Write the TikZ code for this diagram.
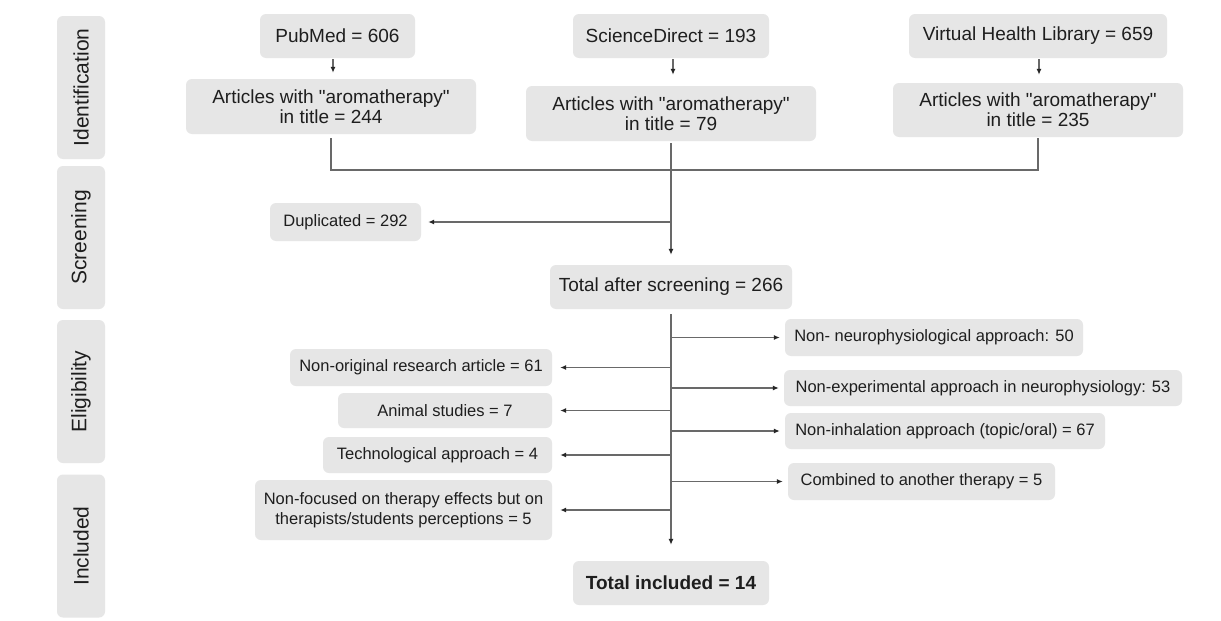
\documentclass[tikz,border=0pt]{standalone}
\usepackage{fontspec}
\setmainfont{Liberation Sans}[Ligatures=TeXOff]
\usetikzlibrary{arrows.meta}
\definecolor{boxgray}{RGB}{230,230,230}
\definecolor{linegray}{RGB}{105,105,105}
\definecolor{txt}{RGB}{30,30,30}
\begin{document}
\begin{tikzpicture}[x=1pt,y=-1pt,
  box/.style={fill=boxgray, rounded corners=6pt, inner sep=0pt, align=center, text=txt},
  big/.style={font=\fontsize{19}{20}\selectfont},
  small/.style={font=\fontsize{16.5}{20}\selectfont},
  side/.style={box, rotate=90, minimum width=143, minimum height=48, font=\fontsize{21}{24}\selectfont},
  conn/.style={draw=linegray, line width=1.2pt},
  arr/.style={conn, -{Latex[length=6pt,width=5pt,color=black!85]}}
]
\fill[white] (0,0) rectangle (1221,621);
\useasboundingbox (0,0) rectangle (1221,621);

% side labels
\node[side] (sid) at (81,87.5) {Identification};
\node[side] (sscr) at (81,237.5) {Screening};
\node[side] (selg) at (81,391.5) {Eligibility};
\node[side] (sinc) at (81,546) {Included};

% identification
\node[box,big,minimum width=155,minimum height=44] (pub) at (337.5,36) {PubMed = 606};
\node[box,big,minimum width=196,minimum height=44] (sd) at (671,36) {ScienceDirect = 193};
\node[box,big,minimum width=258,minimum height=44] (vhl) at (1038,36) {Virtual Health Library = 659};
\node[box,big,minimum width=290,minimum height=55] (a1) at (331,106.5) {Articles with "aromatherapy"\\in title = 244};
\node[box,big,minimum width=290,minimum height=55] (a2) at (671,113.5) {Articles with "aromatherapy"\\in title = 79};
\node[box,big,minimum width=290,minimum height=54] (a3) at (1038,110) {Articles with "aromatherapy"\\in title = 235};

% screening
\node[box,small,minimum width=151,minimum height=38] (dup) at (345.5,222) {Duplicated = 292};
\node[box,big,minimum width=242,minimum height=44] (tas) at (671,287) {Total after screening = 266};

% eligibility right
\node[box,small,minimum width=298,minimum height=37] (nn) at (934,337.5) {Non- neurophysiological approach: 50};
\node[box,small,minimum width=398,minimum height=36] (ne) at (983,388) {Non-experimental approach in neurophysiology: 53};
\node[box,small,minimum width=320,minimum height=36] (ni) at (945,431) {Non-inhalation approach (topic/oral) = 67};
\node[box,small,minimum width=267,minimum height=37] (cb) at (921.5,481.5) {Combined to another therapy = 5};

% eligibility left
\node[box,small,minimum width=262,minimum height=37] (no) at (421,367.5) {Non-original research article = 61};
\node[box,small,minimum width=214,minimum height=35] (an) at (445,410.5) {Animal studies = 7};
\node[box,small,minimum width=229,minimum height=36] (te) at (437.5,455) {Technological approach = 4};
\node[box,small,minimum width=297,minimum height=60] (nf) at (403.5,510) {Non-focused on therapy effects but on\\therapists/students perceptions = 5};

% included
\node[box,big,minimum width=196,minimum height=44,font=\fontsize{19}{20}\selectfont\bfseries] (ti) at (671,583) {Total included = 14};

% connectors
\draw[arr, shorten <=1pt, shorten >=6pt] ([xshift=-4.5pt]pub.south) -- ([xshift=-4.5pt]pub.south |- a1.north);
\draw[arr, shorten <=1pt, shorten >=11pt] ([xshift=2pt]sd.south) -- ([xshift=2pt]sd.south |- a2.north);
\draw[arr, shorten <=1pt, shorten >=8pt] ([xshift=1pt]vhl.south) -- ([xshift=1pt]vhl.south |- a3.north);

\coordinate (j) at (671,170);
\draw[conn] ([yshift=-4pt]a1.south) |- (j) -| ([yshift=-1pt]a3.south);
\draw[arr, shorten >=10pt] ([yshift=-2pt]a2.south) -- (tas.north);
\draw[arr, shorten >=7pt] (a2.south |- dup.east) -- (dup.east);

\draw[arr, shorten >=16pt] ([yshift=-5pt]tas.south) -- (ti.north);
\draw[arr, shorten >=5pt] (tas.south |- nn.west) -- (nn.west);
\draw[arr, shorten >=5pt] (tas.south |- ne.west) -- (ne.west);
\draw[arr, shorten >=5pt] (tas.south |- ni.west) -- (ni.west);
\draw[arr, shorten >=5pt] (tas.south |- cb.west) -- (cb.west);
\draw[arr, shorten >=8pt] (tas.south |- no.east) -- (no.east);
\draw[arr, shorten >=8pt] (tas.south |- an.east) -- (an.east);
\draw[arr, shorten >=8pt] (tas.south |- te.east) -- (te.east);
\draw[arr, shorten >=8pt] (tas.south |- nf.east) -- (nf.east);
\end{tikzpicture}
\end{document}
